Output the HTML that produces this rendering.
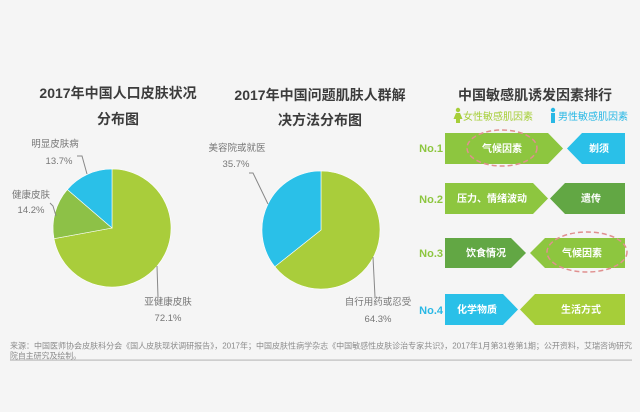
<!DOCTYPE html>
<html>
<head>
<meta charset="utf-8">
<style>
html,body{margin:0;padding:0;background:#f5f5f5;}
body{width:640px;height:412px;overflow:hidden;}
svg{display:block;}
text{font-family:"Liberation Sans","Noto Sans CJK SC",sans-serif;}
</style>
</head>
<body>
<svg width="640" height="412" viewBox="0 0 640 412" xmlns="http://www.w3.org/2000/svg">
<rect x="0" y="0" width="640" height="412" fill="#f5f5f5"/>

<!-- Titles -->
<g font-weight="bold" fill="#3c3c3c" font-size="14" text-anchor="middle">
  <text x="118" y="98">2017年中国人口皮肤状况</text>
  <text x="118" y="124">分布图</text>
  <text x="320" y="100">2017年中国问题肌肤人群解</text>
  <text x="320" y="125">决方法分布图</text>
  <text x="535" y="100">中国敏感肌诱发因素排行</text>
</g>

<!-- Pie 1 -->
<g stroke="#ffffff" stroke-width="0.6">
  <path d="M112,228 L112,169 A59,59 0 1 1 54.0,238.7 Z" fill="#a9cd3b"/>
  <path d="M112,228 L54.0,238.7 A59,59 0 0 1 67.3,189.5 Z" fill="#8dc147"/>
  <path d="M112,228 L67.3,189.5 A59,59 0 0 1 112,169 Z" fill="#2ac0e8"/>
</g>
<g stroke="#888" stroke-width="1" fill="none">
  <polyline points="77,156 82,156 87,174"/>
  <polyline points="50,203 53,206 56,216"/>
  <polyline points="157,266 158,297"/>
</g>
<g fill="#777" font-size="9.5" text-anchor="middle">
  <text x="55" y="147">明显皮肤病</text>
  <text x="59" y="164">13.7%</text>
  <text x="31" y="198">健康皮肤</text>
  <text x="31" y="213">14.2%</text>
  <text x="168" y="305">亚健康皮肤</text>
  <text x="168" y="321">72.1%</text>
</g>

<!-- Pie 2 -->
<g stroke="#ffffff" stroke-width="0.6">
  <path d="M321,230 L321,171 A59,59 0 1 1 274.8,266.7 Z" fill="#a9cd3b"/>
  <path d="M321,230 L274.8,266.7 A59,59 0 0 1 321,171 Z" fill="#2ac0e8"/>
</g>
<g stroke="#888" stroke-width="1" fill="none">
  <polyline points="249,173 253,173 268,204"/>
  <polyline points="373,257 375,297"/>
</g>
<g fill="#777" font-size="9.5" text-anchor="middle">
  <text x="237" y="151">美容院或就医</text>
  <text x="236" y="167">35.7%</text>
  <text x="378" y="305">自行用药或忍受</text>
  <text x="378" y="322">64.3%</text>
</g>

<!-- Legend -->
<g fill="#a6ce39">
  <circle cx="458" cy="110" r="2.2"/>
  <path d="M456,113 L460,113 L462.5,119 L460,119 L460,123 L456,123 L456,119 L453.5,119 Z"/>
</g>
<text x="463" y="120" font-size="10" fill="#a6ce39">女性敏感肌因素</text>
<g fill="#29b8e5">
  <circle cx="553" cy="110" r="2.2"/>
  <rect x="551" y="113" width="4" height="10"/>
</g>
<text x="558" y="120" font-size="10" fill="#29b8e5">男性敏感肌因素</text>

<!-- Rows -->
<polygon points="445,133 548,133 563,148.5 548,164 445,164" fill="#8dc63f"/>
<polygon points="567,148.5 582,133 625,133 625,164 582,164" fill="#2ac0e8"/>

<polygon points="445,183 533,183 548,198.5 533,214 445,214" fill="#8dc63f"/>
<polygon points="550,198.5 565,183 625,183 625,214 565,214" fill="#62a744"/>

<polygon points="445,238 511,238 526,253 511,268 445,268" fill="#62a744"/>
<polygon points="530,253 545,238 625,238 625,268 545,268" fill="#8dc63f"/>

<polygon points="445,294 503,294 518,309.5 503,325 445,325" fill="#2ac0e8"/>
<polygon points="520,309.5 535,294 625,294 625,325 535,325" fill="#a6ce39"/>

<!-- dashed ellipses -->
<g fill="none" stroke="#e0908f" stroke-width="1.5" stroke-dasharray="5 3">
  <ellipse cx="502" cy="148" rx="35" ry="18"/>
  <ellipse cx="587" cy="252" rx="40" ry="20"/>
</g>

<!-- row labels -->
<g font-weight="bold" font-size="11" text-anchor="end">
  <text x="443" y="152" fill="#8dc63f">No.1</text>
  <text x="443" y="203" fill="#8dc63f">No.2</text>
  <text x="443" y="257" fill="#8dc63f">No.3</text>
  <text x="443" y="314" fill="#29b8e5">No.4</text>
</g>

<!-- row texts -->
<g font-weight="bold" font-size="10" fill="#ffffff" text-anchor="middle">
  <text x="502" y="152">气候因素</text>
  <text x="599" y="152">剃须</text>
  <text x="492" y="202">压力、情绪波动</text>
  <text x="591" y="202">遗传</text>
  <text x="486" y="256.5">饮食情况</text>
  <text x="582" y="256.5">气候因素</text>
  <text x="477" y="313">化学物质</text>
  <text x="581" y="313">生活方式</text>
</g>

<!-- Source -->
<g fill="#8a8a8a" font-size="7.9">
  <text x="10" y="348.5" textLength="622" lengthAdjust="spacingAndGlyphs">来源：中国医师协会皮肤科分会《国人皮肤现状调研报告》，2017年；中国皮肤性病学杂志《中国敏感性皮肤诊治专家共识》，2017年1月第31卷第1期；公开资料，艾瑞咨询研究</text>
  <text x="10" y="358.5">院自主研究及绘制。</text>
</g>
<rect x="10" y="359.5" width="622" height="1.2" fill="#bdbdbd"/>
</svg>
</body>
</html>
